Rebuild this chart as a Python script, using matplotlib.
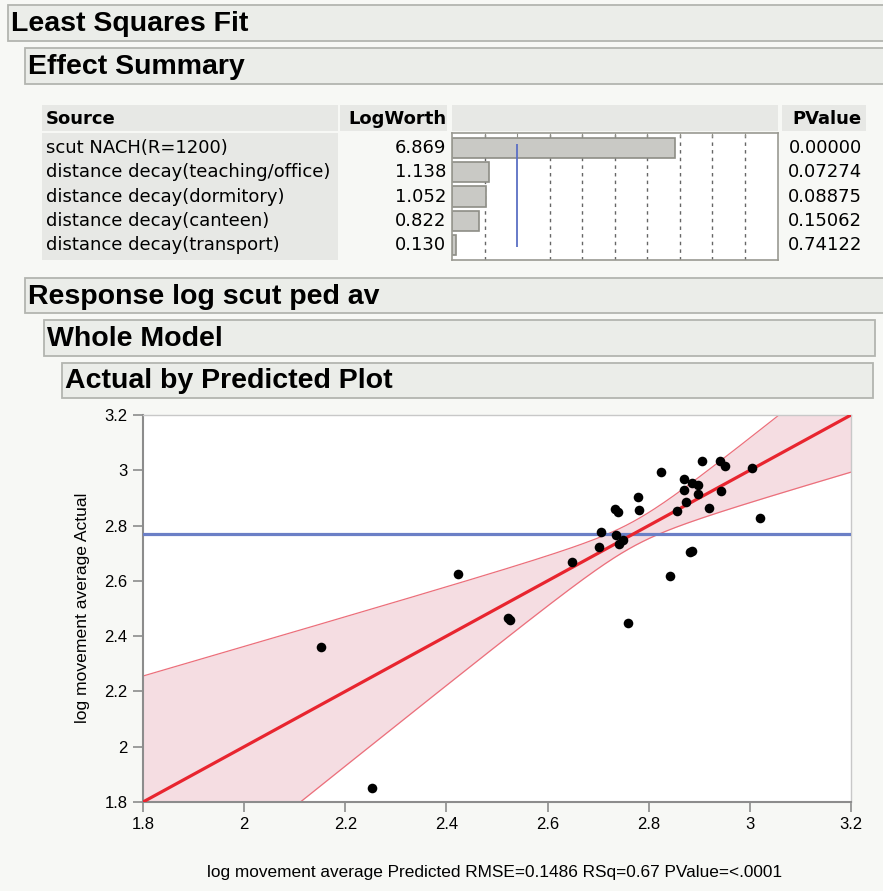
import numpy as np
import matplotlib.pyplot as plt
from matplotlib.patches import Rectangle

# effect summary table
sources = ['scut NACH(R=1200)', 'distance decay(teaching/office)',
           'distance decay(dormitory)', 'distance decay(canteen)',
           'distance decay(transport)']
logworth = [6.869, 1.138, 1.052, 0.822, 0.130]
pvalues = ['0.00000', '0.07274', '0.08875', '0.15062', '0.74122']

# actual by predicted points
predicted = [2.152, 2.253, 2.422, 2.522, 2.525, 2.648, 2.702, 2.705, 2.734, 2.740,
             2.736, 2.741, 2.749, 2.759, 2.779, 2.781, 2.824, 2.843, 2.855, 2.870,
             2.870, 2.874, 2.881, 2.886, 2.885, 2.898, 2.898, 2.906, 2.920, 2.940,
             2.951, 2.942, 3.005, 3.020]
actual = [2.361, 1.849, 2.626, 2.466, 2.460, 2.668, 2.721, 2.777, 2.859, 2.849,
          2.765, 2.734, 2.747, 2.446, 2.905, 2.856, 2.992, 2.619, 2.851, 2.969,
          2.929, 2.884, 2.705, 2.708, 2.953, 2.947, 2.915, 3.035, 2.863, 3.032,
          3.016, 2.924, 3.008, 2.827]
mean_actual = 2.769
# confidence curve half width: sqrt(a^2 + (b*(x-mean))^2)
band_a = 0.045
band_b = 0.468

W, H = 883, 891
fig = plt.figure(figsize=(W / 100, H / 100), dpi=100)
fig.patch.set_facecolor('#f7f8f5')

head_font = ['Liberation Sans', 'DejaVu Sans']
table_font = ['DejaVu Sans']
axis_font = ['Liberation Sans', 'DejaVu Sans']


def fx(px):
    return px / W


def fy(py):
    return 1 - py / H


def box(x0, y0, x1, y1, fc, ec='none', lw=0):
    fig.add_artist(Rectangle((fx(x0), fy(y1)), (x1 - x0) / W, (y1 - y0) / H,
                             transform=fig.transFigure, facecolor=fc,
                             edgecolor=ec, lw=lw))


def header(x0, y0, x1, y1, text):
    box(x0, y0, x1, y1, '#ebede9', '#b3b5b0', 1.3)
    fig.text(fx(x0 + 3), fy((y0 + y1) / 2 + 1), text, fontsize=20.5, fontweight='bold',
             family=head_font, va='center', ha='left')


header(8, 5, 890, 41, 'Least Squares Fit')
header(25, 48, 890, 84, 'Effect Summary')
header(25, 278, 890, 313, 'Response log scut ped av')
header(44, 320, 875, 356, 'Whole Model')
header(62, 363, 873, 398, 'Actual by Predicted Plot')

# table header row
box(42, 105, 338, 131, '#e7e8e5')
box(340, 105, 447, 131, '#e7e8e5')
box(452, 105, 778, 131, '#e7e8e5')
box(782, 105, 866, 131, '#e7e8e5')
box(42, 133, 338, 260, '#e7e8e5')
fig.text(fx(46), fy(119), 'Source', fontsize=13, fontweight='bold', family=table_font, va='center')
fig.text(fx(446), fy(119), 'LogWorth', fontsize=13, fontweight='bold', family=table_font, va='center', ha='right')
fig.text(fx(862), fy(119), 'PValue', fontsize=13, fontweight='bold', family=table_font, va='center', ha='right')

# bar chart of logworth
bx = fig.add_axes([fx(452), fy(260), 326 / W, 127 / H])
bx.set_facecolor('white')
rows = np.arange(len(sources))
bx.set_xlim(0, 326 / 32.5)
bx.set_ylim(len(sources) - 0.4, -0.6)
for v in range(1, 10):
    if v != 2:
        bx.axvline(v, color='#666666', lw=1, ls=(0, (2.5, 3)), zorder=1)
bx.barh(rows, logworth, height=0.82, color='#c9c9c5', edgecolor='#8e8e86', lw=1.2, zorder=2)
bx.vlines(2, -0.15, 4.05, color='#5b6fc4', lw=1.3, zorder=3)
bx.set_xticks(range(1, 10))
bx.set_yticks([])
bx.tick_params(axis='x', bottom=False, top=True, direction='in', length=3,
               color='#8e8e86', labelbottom=False)
for s in bx.spines.values():
    s.set_color('#9a9a92')
    s.set_linewidth(1.2)

row_px = 127 / (len(sources) + 0.2)
for i in rows:
    yc = 133 + (i + 0.6) * row_px
    fig.text(fx(46), fy(yc), sources[i], fontsize=13, family=table_font, va='center')
    fig.text(fx(446), fy(yc), '%.3f' % logworth[i], fontsize=13, family=table_font, va='center', ha='right')
    fig.text(fx(862), fy(yc), pvalues[i], fontsize=13, family=table_font, va='center', ha='right')

# actual by predicted plot
ax = fig.add_axes([fx(143), fy(802), 708 / W, 387 / H])
ax.set_facecolor('white')
ax.set_xlim(1.8, 3.2)
ax.set_ylim(1.8, 3.2)
xs = np.linspace(1.8, 3.2, 300)
hw = np.sqrt(band_a ** 2 + (band_b * (xs - mean_actual)) ** 2)
ax.fill_between(xs, xs - hw, xs + hw, color='#f5dde2', lw=0, zorder=1)
ax.plot(xs, xs + hw, color='#ec6f7b', lw=0.9, zorder=2)
ax.plot(xs, xs - hw, color='#ec6f7b', lw=0.9, zorder=2)
ax.axhline(mean_actual, color='#6b7fc6', lw=2.3, zorder=3)
ax.plot(xs, xs, color='#e8252f', lw=2.3, zorder=4)
ax.scatter(predicted, actual, s=48, color='black', zorder=5, lw=0)

ticks = np.arange(1.8, 3.21, 0.2)
ax.set_xticks(ticks)
ax.set_yticks(ticks)
ax.set_xticklabels(['%g' % round(t, 1) for t in ticks])
ax.set_yticklabels(['%g' % round(t, 1) for t in ticks])
ax.tick_params(direction='out', length=7, width=1.2, color='#8c8c8c', labelsize=12, pad=4)
for lab in ax.get_xticklabels() + ax.get_yticklabels():
    lab.set_family(axis_font)
for k in ['left', 'bottom']:
    ax.spines[k].set_color('#8c8c8c')
    ax.spines[k].set_linewidth(1.5)
for k in ['top', 'right']:
    ax.spines[k].set_color('#c8c8c8')
    ax.spines[k].set_linewidth(1)

fig.text(fx(495), fy(872), 'log movement average Predicted RMSE=0.1486 RSq=0.67 PValue=<.0001',
         fontsize=12.4, family=axis_font, ha='center', va='center')
fig.text(fx(83), fy(608), 'log movement average Actual', fontsize=12.6, family=axis_font,
         rotation=90, ha='center', va='center')

fig.savefig('out.png', dpi=100, facecolor=fig.get_facecolor())
